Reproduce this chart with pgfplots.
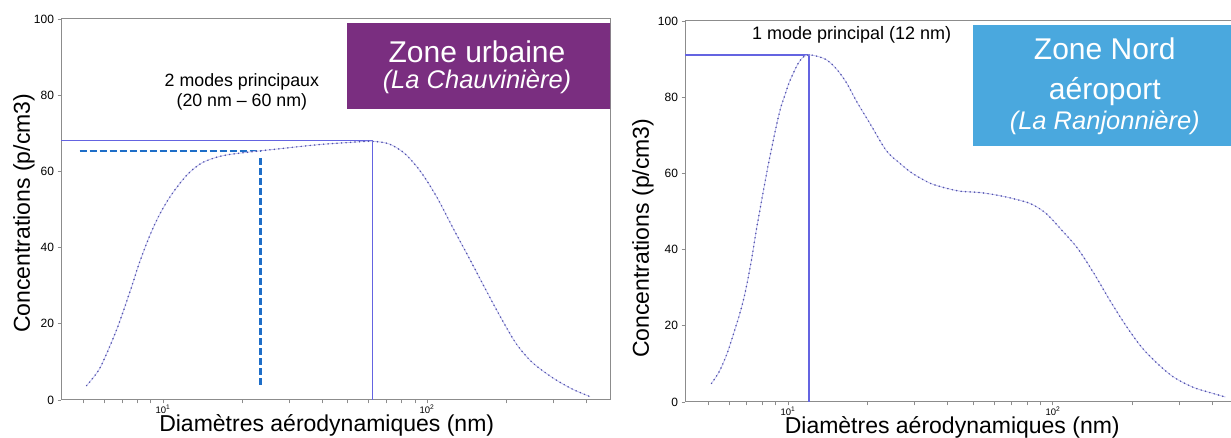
\documentclass[border=0pt]{standalone}
\usepackage{pgfplots}
\pgfplotsset{compat=1.18}
\usepackage{pgfplotstable}
\usepackage{fontspec}
\setmainfont{Liberation Sans}
\definecolor{purplebox}{RGB}{122,46,128}
\definecolor{bluebox}{RGB}{74,168,222}
\definecolor{refline}{RGB}{100,100,225}
\definecolor{dashblue}{RGB}{30,110,200}
\definecolor{curvedot}{RGB}{80,80,170}
\definecolor{curveline}{RGB}{195,195,240}
\definecolor{axgray}{RGB}{140,140,140}
\pgfplotstableread{
x y
5.14 3.8
5.74 8.1
6.38 15.1
6.84 20.4
7.59 29.5
8.13 35.9
8.86 42.7
9.66 48.4
10.7 53.6
12.3 59.0
14.1 62.3
16.8 64.1
20.7 65.0
27.3 65.9
38.5 67.0
50.9 67.6
61.5 67.9
71.9 67.2
82.6 64.6
94.9 59.8
109 53.2
125 45.3
144 37.4
165 29.6
190 21.7
218 14.7
250 9.9
298 5.9
354 2.9
414 0.9
}\urbain
\pgfplotstableread{
x y
5.15 4.9
5.51 8.0
5.90 12.8
6.36 19.8
6.59 23.3
6.84 27.6
7.08 32.6
7.33 38.3
7.57 44.4
7.86 50.8
8.16 57.0
8.45 62.6
8.75 67.7
9.06 72.7
9.38 77.1
9.75 80.6
10.1 83.8
10.5 86.4
10.9 88.7
11.4 90.5
12.0 91.1
12.8 90.8
14.0 89.8
15.3 87.3
16.7 83.6
18.2 78.8
20.4 73.1
23.5 66.0
26.3 62.8
29.1 60.3
32.3 58.4
35.7 57.0
44.0 55.4
54.2 54.9
66.7 53.8
82.0 52.1
94.2 49.5
108 45.1
124 40.3
143 33.7
164 26.7
188 20.2
216 14.4
248 10.1
286 6.5
340 3.8
404 2.2
448 1.3
}\nord
\begin{document}
\begin{tikzpicture}
\useasboundingbox (0,0) rectangle (1231pt,438pt);
% ---------------- left panel
\begin{axis}[xmode=log, scale only axis, anchor=south west,
  height=381pt, ymin=0, ymax=100,
  axis line style={axgray, line width=1pt},
  tick style={axgray, line width=0.8pt},
  xtick={10,100}, xticklabels={10\textsuperscript{1},10\textsuperscript{2}},
  minor xtick={5,6,7,8,9,20,30,40,50,60,70,80,90,200,300,400},
  tick align=outside, major tick length=3.5pt, minor tick length=3.5pt,
  xtick pos=bottom, ytick pos=left,
  ytick={0,20,40,60,80,100},
  /pgf/number format/assume math mode=true,
  yticklabel style={font=\fontsize{12}{14}\selectfont, text=black},
  xticklabel style={font=\fontsize{9.5}{11}\selectfont, text=black, yshift=2pt},
  label style={font=\fontsize{23}{26}\selectfont},
  xlabel={Diamètres aérodynamiques (nm)},
  ylabel={Concentrations (p/cm3)},
  at={(61pt,38pt)}, width=549pt, xmin=4.11, xmax=493,
  xlabel style={at={(axis description cs:0.484,0)}, anchor=base, yshift=-32pt},
  ylabel style={at={(axis description cs:0,0.49)}, anchor=center, yshift=37pt}]
\fill[purplebox] (axis cs:49.8,76.4) rectangle (axis cs:1000,98.9);
\node[anchor=base, text=white, font=\fontsize{30}{32}\selectfont] at (axis cs:154.6,88.7) {Zone urbaine};
\node[anchor=base, text=white, font=\fontsize{25.5}{27}\selectfont\itshape] at (axis cs:154.6,81.7) {(La Chauvinière)};
\node[align=center, font=\fontsize{17.8}{20}\selectfont] at (axis cs:19.9,80.9) {2 modes principaux\\(20 nm – 60 nm)};
\addplot[refline, line width=1.6pt] coordinates {(1,68.1) (62.1,68.1) (62.1,0)};
\addplot[dashblue, line width=2.5pt, dash pattern=on 7pt off 3pt] coordinates {(4.83,65.4) (23.4,65.4)};
\addplot[dashblue, line width=2.5pt, dash pattern=on 7pt off 3pt] coordinates {(23.4,63.4) (23.4,3.1)};
\addplot[curveline, line width=0.8pt, smooth] table {\urbain};
\addplot[curvedot, line width=1.7pt, dash pattern=on 0pt off 4.5pt, line cap=round, smooth] table {\urbain};
\end{axis}
% ---------------- right panel
\begin{axis}[xmode=log, scale only axis, anchor=south west,
  height=381pt, ymin=0, ymax=100,
  axis line style={axgray, line width=1pt},
  tick style={axgray, line width=0.8pt},
  xtick={10,100}, xticklabels={10\textsuperscript{1},10\textsuperscript{2}},
  minor xtick={5,6,7,8,9,20,30,40,50,60,70,80,90,200,300,400},
  tick align=outside, major tick length=3.5pt, minor tick length=3.5pt,
  xtick pos=bottom, ytick pos=left,
  ytick={0,20,40,60,80,100},
  /pgf/number format/assume math mode=true,
  yticklabel style={font=\fontsize{12}{14}\selectfont, text=black},
  xticklabel style={font=\fontsize{9.5}{11}\selectfont, text=black, yshift=2pt},
  label style={font=\fontsize{23}{26}\selectfont},
  xlabel={Diamètres aérodynamiques (nm)},
  ylabel={Concentrations (p/cm3)},
  at={(685pt,36pt)}, width=551pt, xmin=4.09, xmax=491,
  xlabel style={at={(axis description cs:0.485,0)}, anchor=base, yshift=-32pt},
  ylabel style={at={(axis description cs:0,0.43)}, anchor=center, yshift=42pt}]
\fill[bluebox] (axis cs:49.9,67.2) rectangle (axis cs:1000,99.0);
\node[anchor=base, text=white, font=\fontsize{30}{32}\selectfont] at (axis cs:157,89.8) {Zone Nord};
\node[anchor=base, text=white, font=\fontsize{30}{32}\selectfont] at (axis cs:157,79.3) {aéroport};
\node[anchor=base, text=white, font=\fontsize{25.5}{27}\selectfont\itshape] at (axis cs:157,71.4) {(La Ranjonnière)};
\node[font=\fontsize{18}{20}\selectfont] at (axis cs:17.4,96.3) {1 mode principal (12 nm)};
\addplot[refline, line width=1.6pt] coordinates {(1,91.1) (12.0,91.1) (12.0,0)};
\addplot[curveline, line width=0.8pt, smooth] table {\nord};
\addplot[curvedot, line width=1.7pt, dash pattern=on 0pt off 4.5pt, line cap=round, smooth] table {\nord};
\end{axis}
\end{tikzpicture}
\end{document}
